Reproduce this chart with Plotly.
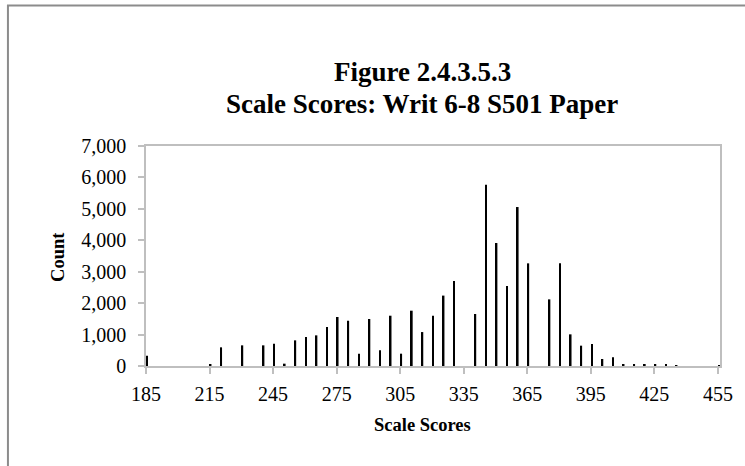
import plotly.graph_objects as go

scores = [185, 215, 220, 230, 240, 245, 250, 255, 260, 265, 270, 275, 280, 285, 290,
          295, 300, 305, 310, 315, 320, 325, 330, 340, 345, 350, 355, 360, 365, 375,
          380, 385, 390, 395, 400, 405, 410, 415, 420, 425, 430, 435, 455]
counts = [330, 60, 594, 657, 657, 710, 74, 816, 922, 975, 1240, 1560, 1440, 392, 1495,
          498, 1600, 392, 1760, 1080, 1600, 2240, 2705, 1654, 5770, 3913, 2545, 5058, 3266, 2120,
          3266, 1007, 647, 700, 223, 276, 50, 50, 40, 40, 40, 30, 20]
tick_labels = ["185", "215", "245", "275", "305", "335", "365", "395", "425", "455"]
tick_positions = [int(t) - 0.5 for t in tick_labels]

W, H = 745, 466
L, R, T, B = 146, 19, 146, 100
pw, ph = W - L - R, H - T - B

def px(x):
    return (x - L) / pw

def py(y):
    return (H - B - y) / ph

serif = "Liberation Serif, Times New Roman, serif"

fig = go.Figure(go.Bar(x=scores, y=counts, width=0.8, marker=dict(color="black", line=dict(width=0))))

fig.update_layout(
    width=W, height=H,
    margin=dict(l=L, r=R, t=T, b=B),
    paper_bgcolor="white", plot_bgcolor="white",
    showlegend=False,
    font=dict(family=serif, color="black", size=20),
)
fig.update_xaxes(
    range=[184.5, 455.5], tickvals=tick_positions, ticktext=tick_labels,
    showline=True, linecolor="#bfbfbf", linewidth=1.5, mirror=True,
    ticks="outside", ticklen=6, tickcolor="#bfbfbf", tickwidth=1.5,
    showgrid=False, zeroline=False, tickfont=dict(size=20), ticklabelstandoff=3,
)
fig.update_yaxes(
    range=[0, 7000], dtick=1000, tickformat=",",
    showline=True, linecolor="#bfbfbf", linewidth=1.5, mirror=True,
    ticks="outside", ticklen=6, tickcolor="#bfbfbf", tickwidth=1.5,
    showgrid=False, zeroline=False, tickfont=dict(size=20), ticklabelstandoff=8,
)

fig.add_annotation(text="<b>Figure 2.4.3.5.3</b>", x=px(425), y=py(72), xref="paper", yref="paper",
                   showarrow=False, font=dict(size=27, family=serif), xanchor="center", yanchor="middle")
fig.add_annotation(text="<b>Scale Scores: Writ 6-8 S501 Paper</b>", x=px(425), y=py(104), xref="paper", yref="paper",
                   showarrow=False, font=dict(size=27, family=serif), xanchor="center", yanchor="middle")
fig.add_annotation(text="<b>Scale Scores</b>", x=px(425), y=py(425), xref="paper", yref="paper",
                   showarrow=False, font=dict(size=18.5, family=serif), xanchor="center", yanchor="middle")
fig.add_annotation(text="<b>Count</b>", x=px(57), y=py(257), xref="paper", yref="paper", textangle=-90,
                   showarrow=False, font=dict(size=18.5, family=serif), xanchor="center", yanchor="middle")

fig.add_shape(type="rect", xref="paper", yref="paper",
              x0=px(6.5), x1=px(760), y0=py(5.5), y1=py(480),
              line=dict(color="#8c8c8c", width=2), fillcolor="rgba(0,0,0,0)", layer="below")

fig.write_html("out.html", config={"displayModeBar": False},
               post_script="document.body.style.margin='0';document.body.style.overflow='hidden';")
